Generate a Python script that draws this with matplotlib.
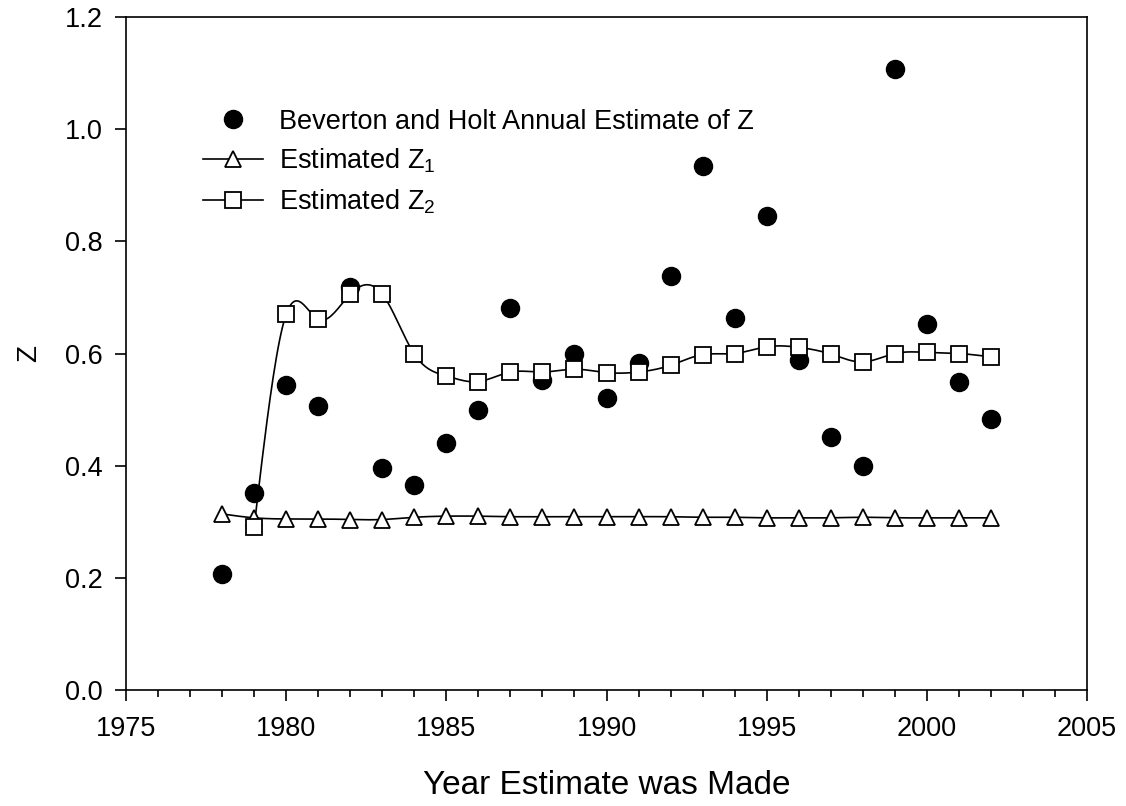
import numpy as np
import matplotlib.pyplot as plt

plt.rcParams['font.family'] = ['Liberation Sans', 'DejaVu Sans']
plt.rcParams['mathtext.default'] = 'regular'

# ============================
# DATOS
# ============================
years = np.arange(1978, 2003)

z_bh = [0.206, 0.351, 0.544, 0.507, 0.718, 0.395, 0.365, 0.440, 0.500, 0.681,
        0.553, 0.600, 0.520, 0.583, 0.739, 0.935, 0.663, 0.846, 0.588, 0.452,
        0.399, 1.107, 0.652, 0.549, 0.484]

z1 = [0.314, 0.307, 0.305, 0.305, 0.304, 0.304, 0.308, 0.310, 0.310, 0.309,
      0.309, 0.309, 0.309, 0.309, 0.309, 0.308, 0.308, 0.307, 0.307, 0.307,
      0.308, 0.307, 0.307, 0.307, 0.307]

years_z2 = np.arange(1979, 2003)
z2 = [0.291, 0.670, 0.661, 0.706, 0.706, 0.599, 0.560, 0.550, 0.567, 0.567,
      0.572, 0.566, 0.567, 0.579, 0.598, 0.600, 0.612, 0.611, 0.599, 0.585,
      0.600, 0.602, 0.600, 0.594]


# spline cubica natural (para dibujar la curva suave entre los puntos)
def spline(x, y, n=20):
    x = np.asarray(x, float)
    y = np.asarray(y, float)
    m = len(x)
    h = np.diff(x)
    A = np.zeros((m, m))
    b = np.zeros(m)
    A[0, 0] = A[-1, -1] = 1
    for i in range(1, m - 1):
        A[i, i - 1] = h[i - 1]
        A[i, i] = 2 * (h[i - 1] + h[i])
        A[i, i + 1] = h[i]
        b[i] = 3 * ((y[i + 1] - y[i]) / h[i] - (y[i] - y[i - 1]) / h[i - 1])
    c = np.linalg.solve(A, b)
    xs, ys = [], []
    for i in range(m - 1):
        bi = (y[i + 1] - y[i]) / h[i] - h[i] * (2 * c[i] + c[i + 1]) / 3
        di = (c[i + 1] - c[i]) / (3 * h[i])
        t = np.linspace(0, h[i], n, endpoint=(i == m - 2))
        xs.append(x[i] + t)
        ys.append(y[i] + bi * t + c[i] * t**2 + di * t**3)
    return np.concatenate(xs), np.concatenate(ys)


# ============================
# GRAFICO
# ============================
fig = plt.figure(figsize=(11.26, 8.06), dpi=100)
ax = fig.add_axes([0.1119, 0.1439, 0.8535, 0.835])

ax.plot(years, z_bh, 'o', color='black', ms=13, zorder=2,
        label='Beverton and Holt Annual Estimate of Z')

xs, ys = spline(years, z1)
ax.plot(xs, ys, '-', color='black', lw=1.2, zorder=3)
ax.plot(years, z1, '^', mfc='white', mec='black', mew=1.3, ms=12, zorder=4)

xs, ys = spline(years_z2, z2)
ax.plot(xs, ys, '-', color='black', lw=1.2, zorder=3)
ax.plot(years_z2, z2, 's', mfc='white', mec='black', mew=1.3, ms=11, zorder=4)

# entradas de leyenda
ax.plot([], [], '-^', color='black', mfc='white', mec='black', mew=1.3, ms=12,
        lw=1.2, label='Estimated Z$_1$')
ax.plot([], [], '-s', color='black', mfc='white', mec='black', mew=1.3, ms=11,
        lw=1.2, label='Estimated Z$_2$')

handles, labels = ax.get_legend_handles_labels()
ax.legend(handles, labels, loc='upper left', bbox_to_anchor=(0.0665, 0.884),
          frameon=False, fontsize=19.5, handlelength=2.2, handletextpad=0.6,
          labelspacing=0.45, borderpad=0)

ax.set_xlim(1975, 2005)
ax.set_ylim(0, 1.2)
ax.set_xticks(np.arange(1975, 2006, 5))
ax.set_xticks(np.arange(1975, 2006, 1), minor=True)
ax.set_yticks(np.arange(0, 1.21, 0.2))
ax.set_yticklabels([f'{v:.1f}' for v in np.arange(0, 1.21, 0.2)])

ax.tick_params(axis='both', which='major', direction='out', length=8, width=1.2,
               labelsize=19.5, top=False, right=False)
ax.tick_params(axis='x', which='major', pad=11)
ax.tick_params(axis='y', which='major', pad=9)
ax.tick_params(axis='x', which='minor', direction='out', length=5, width=1.2)
for s in ax.spines.values():
    s.set_linewidth(1.2)

ax.set_xlabel('Year Estimate was Made', fontsize=24, labelpad=20)
ax.set_ylabel('Z', fontsize=20, labelpad=16)

fig.savefig('out.png', dpi=100)
